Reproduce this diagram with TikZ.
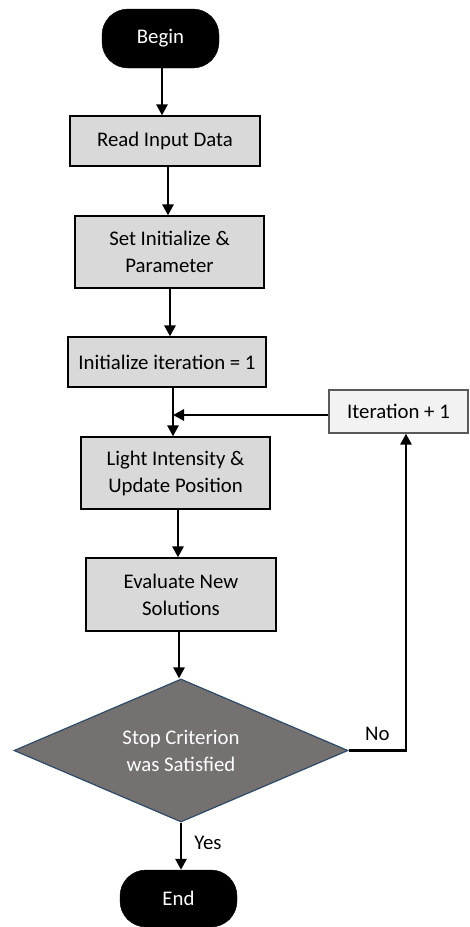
\documentclass[tikz,border=0pt]{standalone}
\usepackage{fontspec}
\setmainfont{Carlito}
\usetikzlibrary{arrows.meta,shapes.geometric}

\definecolor{procfill}{HTML}{D9D9D9}
\definecolor{loopfill}{HTML}{F2F2F2}
\definecolor{loopline}{HTML}{595959}
\definecolor{decfill}{HTML}{767171}
\definecolor{decline}{HTML}{2F4A68}

\tikzset{
  terminal/.style={draw=black, fill=black, text=white, rounded corners=26pt,
    minimum width=117pt, inner sep=0pt},
  process/.style={draw=black, line width=1.2pt, fill=procfill, align=center,
    minimum width=190pt, inner sep=0pt},
  loopbox/.style={draw=loopline, line width=1.2pt, fill=loopfill,
    minimum width=139pt, minimum height=43pt, inner sep=0pt},
  decision/.style={diamond, aspect=2.33, draw=decline, line width=1.2pt,
    fill=decfill, text=white, align=center, minimum width=334pt,
    minimum height=143pt, inner sep=0pt},
  flow/.style={line width=2.7pt, -{Triangle[length=11pt,width=11pt]}},
  tag/.style={inner sep=0pt}
}

\begin{document}
\begin{tikzpicture}[x=1pt, y=-1pt, font=\fontsize{20.8}{27}\selectfont]
  \useasboundingbox (0,0) rectangle (469,927);

  % flowchart nodes
  \node[terminal, minimum height=59pt] (begin) at (160.5,38.5) {Begin};
  \node[process, minimum height=50pt] (read) at (165,141) {Read Input Data};
  \node[process, minimum width=189pt, minimum height=72pt] (set) at (169.5,252)
    {Set Initialize \&\\Parameter};
  \node[process, minimum width=198pt, minimum height=50pt] (init) at (167,362)
    {Initialize iteration = 1};
  \node[process, minimum width=189pt, minimum height=72pt] (light) at (175.5,473)
    {Light Intensity \&\\Update Position};
  \node[process, minimum height=73pt] (eval) at (181,594.5)
    {Evaluate New\\Solutions};
  \node[decision] (dec) at (181,750.5) {Stop Criterion\\was Satisfied};
  \node[terminal, minimum height=57pt] (end) at (178.5,898.5) {End};
  \node[loopbox] (iter) at (398.5,411.5) {Iteration + 1};

  % junction where the loop rejoins the main line
  \coordinate (join) at ([xshift=6pt]init.south);

  % main sequence
  \draw[flow] ([xshift=1.5pt]begin.south) -- ([xshift=1.5pt]begin.south |- read.north);
  \draw[flow] ([xshift=3pt]read.south) -- ([xshift=3pt]read.south |- set.north);
  \draw[flow] ([xshift=0.5pt]set.south) -- ([xshift=0.5pt]set.south |- init.north);
  \draw[flow] (join) -- (join |- light.north);
  \draw[flow] ([xshift=2.5pt]light.south) -- ([xshift=2.5pt]light.south |- eval.north);
  \draw[flow] ([xshift=-2pt]eval.south) -- ([xshift=-2pt]eval.south |- dec.north);
  \draw[flow] (dec.south) -- node[tag, right=12pt, pos=0.42] {Yes} (dec.south |- end.north);

  % loop back
  \draw[flow] (dec.east) -| node[tag, above=9pt, pos=0.25] {No} ([xshift=7.5pt]iter.south);
  \draw[flow] ([yshift=-3.5pt]iter.west) -- ([yshift=-3.5pt]iter.west -| join);
\end{tikzpicture}
\end{document}
